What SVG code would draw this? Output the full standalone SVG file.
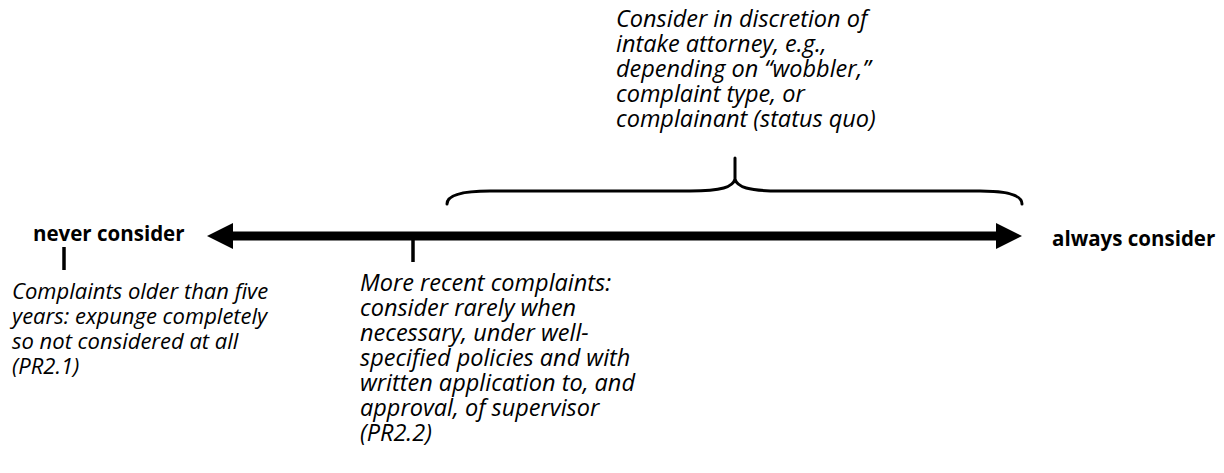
<svg xmlns="http://www.w3.org/2000/svg" width="1224" height="473" viewBox="0 0 1224 473">
<style>
  .lbl { font-family: "Open Sans", "Liberation Sans", sans-serif; font-weight: bold; font-size: 20.5px; fill: #000; }
  .note { font-family: "Open Sans", "Liberation Sans", sans-serif; font-style: italic; font-size: 22px; fill: #000; }
  .big { font-size: 23.5px; }
  .axis { stroke: #000; stroke-width: 9; fill: none; }
  .tick { stroke: #000; stroke-width: 3.5; fill: none; }
  .brace { stroke: #000; stroke-width: 3; fill: none; stroke-linecap: round; }
</style>
<defs>
  <marker id="head" viewBox="0 0 26 26" refX="0" refY="13" markerWidth="26" markerHeight="26" markerUnits="userSpaceOnUse" orient="auto-start-reverse">
    <path d="M0,0 L26,13 L0,26 Z" fill="#000"/>
  </marker>
</defs>
<rect width="1224" height="473" fill="#fff"/>
<g id="connectors">
  <line class="axis" x1="233" y1="236" x2="996" y2="236" marker-start="url(#head)" marker-end="url(#head)"/>
  <line class="tick" x1="64" y1="247" x2="64" y2="270"/>
  <line class="tick" x1="413" y1="240" x2="413" y2="262"/>
  <path class="brace" d="M447,204 C447,196 460,191 490,191 L690,191 C722,191 733,187 735,179 L735,158 M735,179 C737,187 748,191 780,191 L980,191 C1010,191 1022,196 1022,204"/>
</g>
<g id="never">
  <text class="lbl" x="33" y="241">never consider</text>
</g>
<g id="always">
  <text class="lbl" x="1052" y="246">always consider</text>
</g>
<g id="expunge">
  <text class="note" x="12" y="299">Complaints older than five</text>
  <text class="note" x="12" y="324">years: expunge completely</text>
  <text class="note" x="12" y="349">so not considered at all</text>
  <text class="note" x="12" y="374">(PR2.1)</text>
</g>
<g id="rarely">
  <text class="note big" x="360" y="291">More recent complaints:</text>
  <text class="note big" x="360" y="316">consider rarely when</text>
  <text class="note big" x="360" y="341">necessary, under well-</text>
  <text class="note big" x="360" y="366">specified policies and with</text>
  <text class="note big" x="360" y="391">written application to, and</text>
  <text class="note big" x="360" y="416">approval, of supervisor</text>
  <text class="note big" x="360" y="441">(PR2.2)</text>
</g>
<g id="discretion">
  <text class="note big" x="616" y="27">Consider in discretion of</text>
  <text class="note big" x="616" y="52">intake attorney, e.g.,</text>
  <text class="note big" x="616" y="77">depending on “wobbler,”</text>
  <text class="note big" x="616" y="102">complaint type, or</text>
  <text class="note big" x="616" y="127">complainant (status quo)</text>
</g>
</svg>
